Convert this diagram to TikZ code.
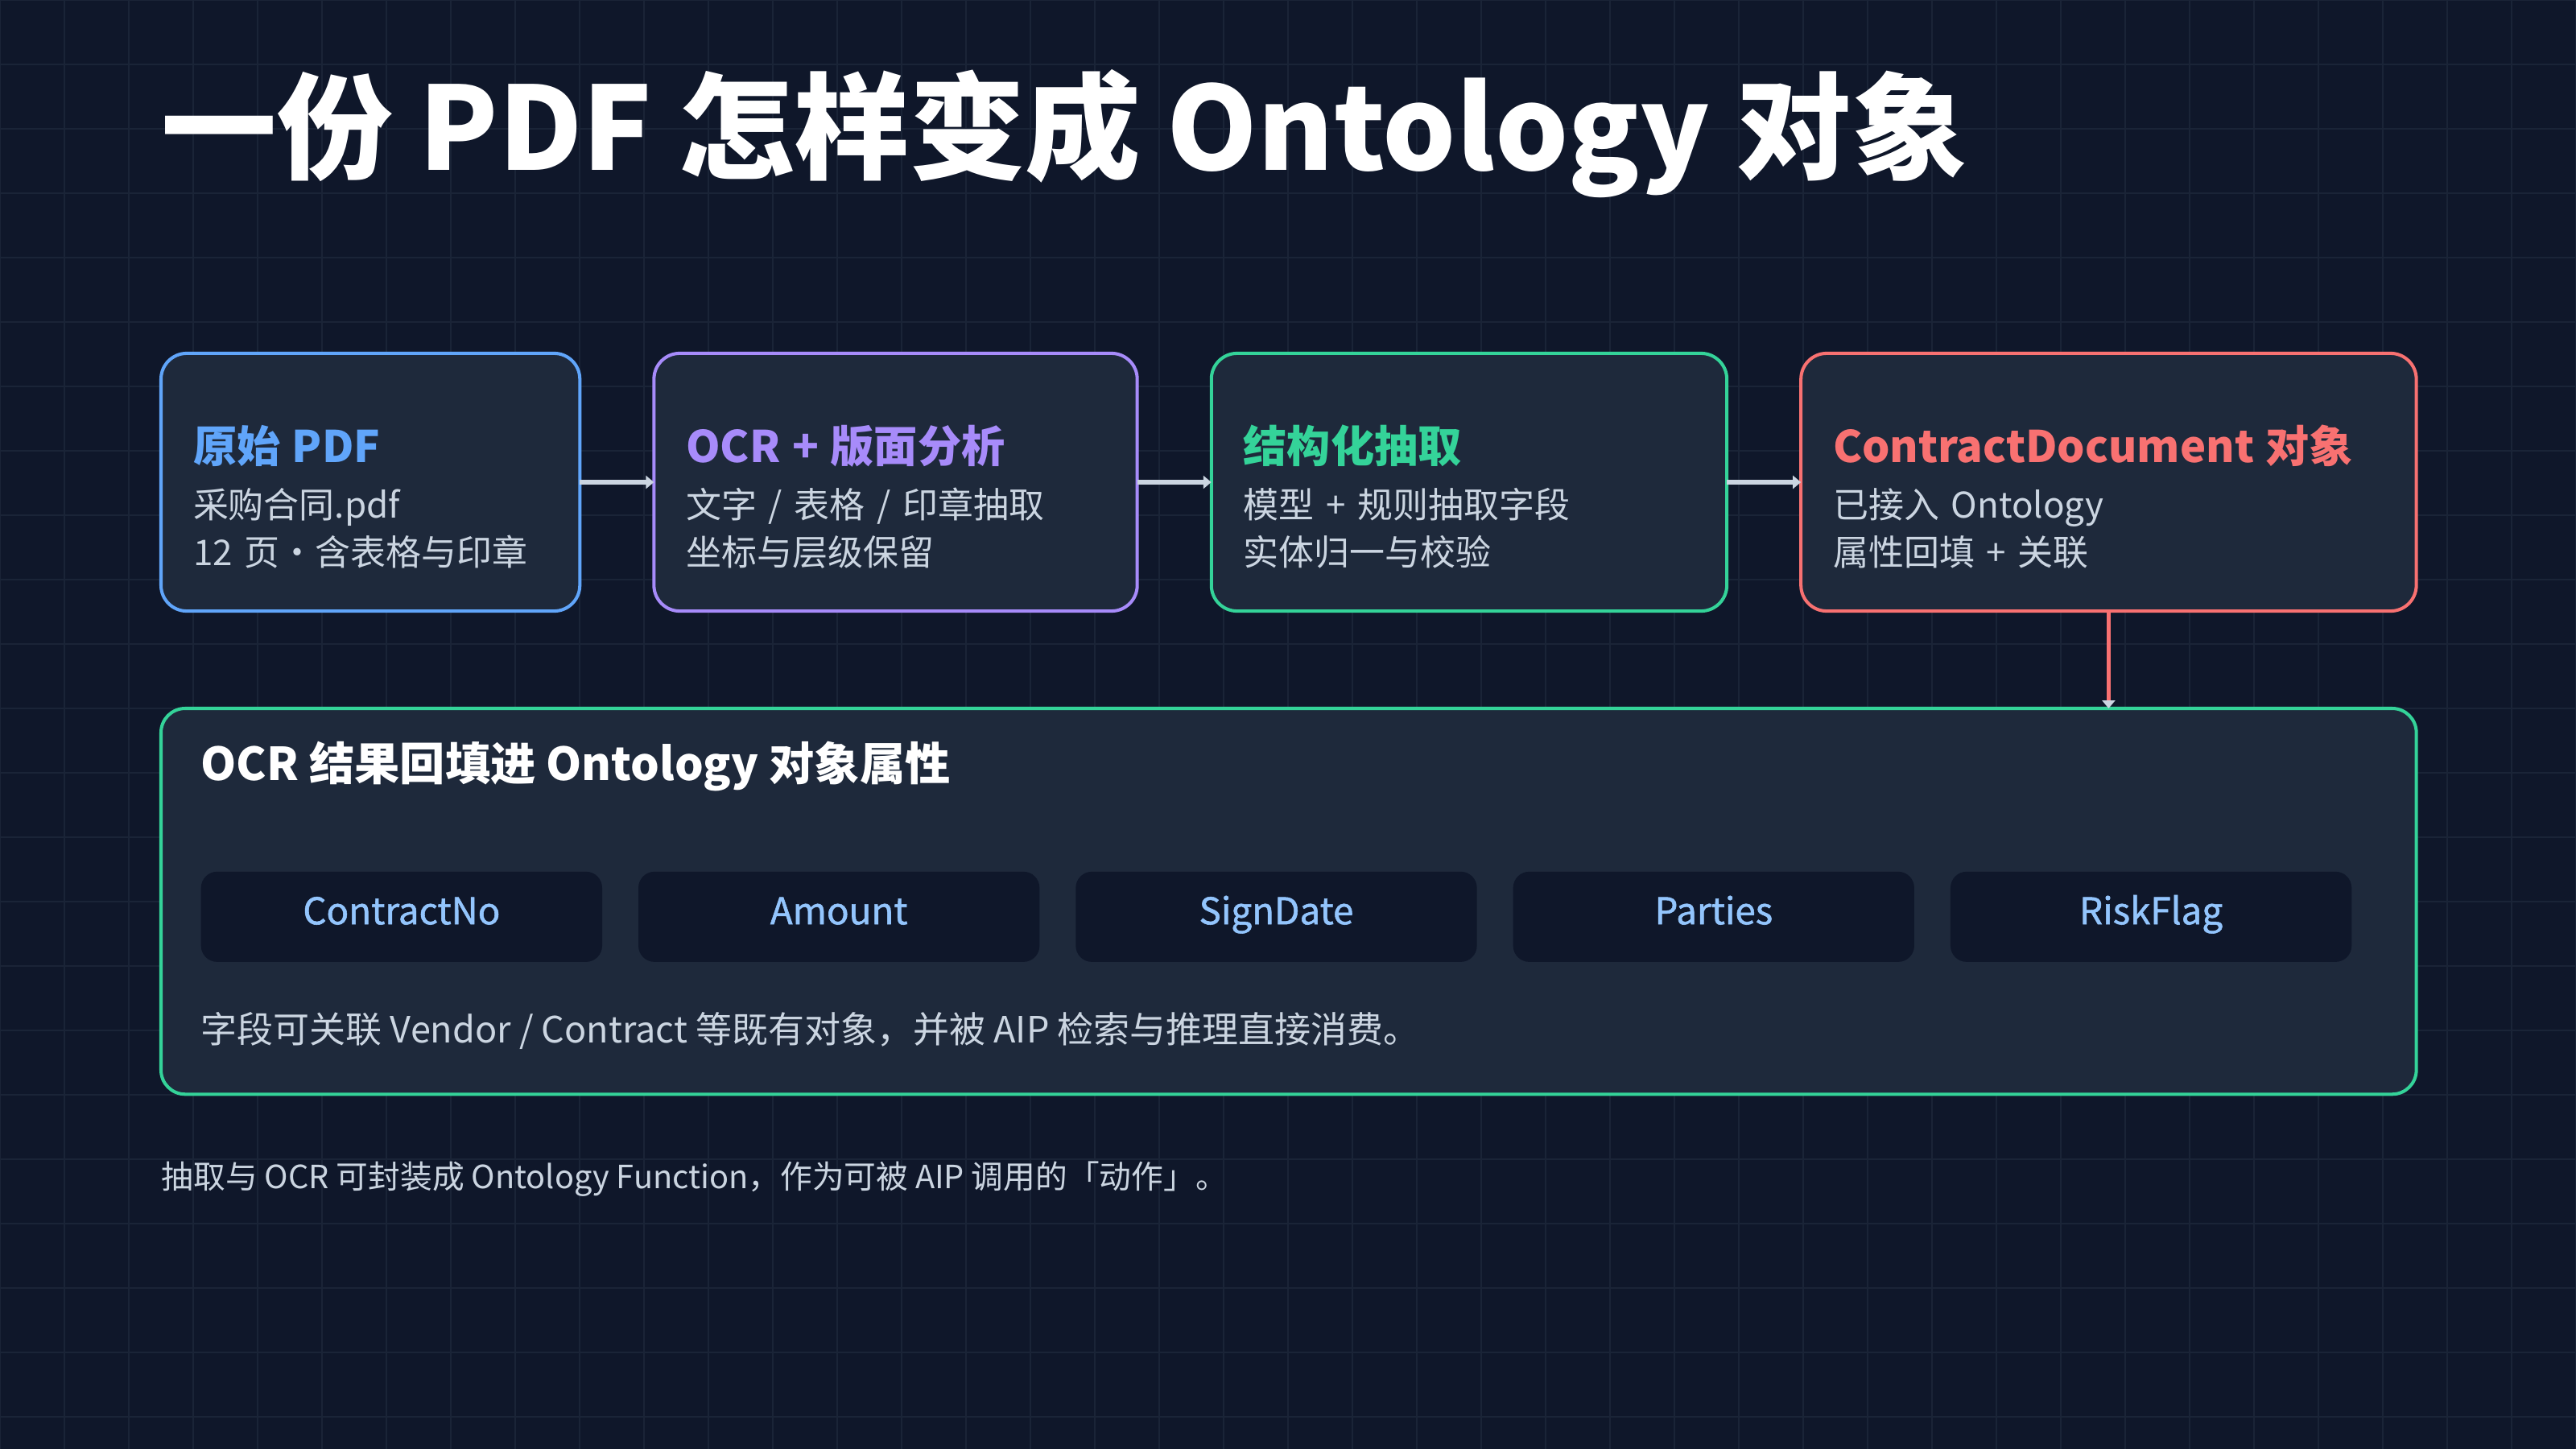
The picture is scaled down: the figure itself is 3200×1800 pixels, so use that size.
\documentclass[tikz,border=0pt]{standalone}
\usepackage{fontspec}
\setmainfont{Noto Sans CJK SC}
\newfontfamily\fieldfont{Noto Sans CJK SC}[FakeBold=1.2]
\usetikzlibrary{arrows.meta, positioning, matrix, graphs}
\definecolor{slatebg}{HTML}{0F172A}
\definecolor{panel}{HTML}{1E293B}
\definecolor{gridc}{HTML}{1A2437}
\definecolor{body}{HTML}{CBD5E1}
\definecolor{arrowc}{HTML}{CBD5E1}
\definecolor{pdfblue}{HTML}{60A5FA}
\definecolor{ocrviolet}{HTML}{A78BFA}
\definecolor{mint}{HTML}{34D399}
\definecolor{coral}{HTML}{F87171}
\definecolor{fieldtext}{HTML}{93C5FD}
\newcommand{\headline}[2]{{\color{#1}\bfseries\fontsize{15.4}{18}\selectfont #2}}
\tikzset{
  gridline/.style={draw=gridc, line width=0.4pt},
  stage/.style={draw=#1, fill=panel, rounded corners=0.32cm, line width=1.15pt,
    minimum height=3.2cm, inner xsep=0.4cm, inner ysep=0pt, outer sep=0pt,
    text height=23.5pt, align=left, text=body, font=\fontsize{12.5}{16.8}\selectfont},
  panelbox/.style={draw=mint, fill=panel, rounded corners=0.3cm, line width=1.15pt, outer sep=0pt},
  field/.style={fill=slatebg, rounded corners=0.2cm, minimum width=4.98cm, minimum height=1.12cm,
    inner sep=0pt, anchor=center, text height=0.75em, text depth=0.22em,
    text=fieldtext, font=\fieldfont\fontsize{13}{15}\selectfont},
  flow/.style={-{Triangle[length=0.1cm,width=0.16cm]}, line width=1.6pt, draw=arrowc},
  drop/.style={-{Triangle[length=0.1cm,width=0.16cm,color=arrowc]}, line width=1.5pt, draw=coral}
}

\begin{document}
\begin{tikzpicture}[x=0.01cm, y=-0.01cm]
  % background and grid
  \fill[slatebg] (0,0) rectangle (3200,1800);
  \useasboundingbox (0,0) rectangle (3200,1800);
  \foreach \gx in {0,80,...,3200} \draw[gridline] (\gx,0) -- (\gx,1800);
  \foreach \gy in {0,80,...,1800} \draw[gridline] (0,\gy) -- (3200,\gy);

  \node[anchor=west, inner sep=0pt, text=white, font=\bfseries\fontsize{40.8}{48}\selectfont] (title) at (200,166)
    {一份 PDF 怎样变成 Ontology 对象};

  % pipeline
  \node[stage=pdfblue, text width=4.4cm, anchor=west] (pdf) at (200,599)
    {\headline{pdfblue}{原始 PDF}\\[3pt] 采购合同.pdf\\ \mbox{12 页·含表格与印章}};
  \node[stage=ocrviolet, text width=5.2cm, right=0.92cm of pdf] (ocr)
    {\headline{ocrviolet}{OCR + 版面分析}\\[3pt] 文字 / 表格 / 印章抽取\\ 坐标与层级保留};
  \node[stage=mint, text width=5.6cm, right=0.92cm of ocr] (extract)
    {\headline{mint}{结构化抽取}\\[3pt] 模型 + 规则抽取字段\\ 实体归一与校验};
  \node[stage=coral, text width=6.84cm, right=0.92cm of extract] (docobj)
    {\headline{coral}{ContractDocument 对象}\\[3pt] 已接入 Ontology\\ 属性回填 + 关联};

  \graph[use existing nodes, edges=flow] {
    pdf -> ocr -> extract -> docobj
  };

  % ontology properties
  \node[panelbox, minimum width=28cm, minimum height=4.79cm, anchor=north west] (props) at (200,880) {};
  \node[anchor=west, inner sep=0pt, text=white, font=\bfseries\fontsize{16}{18}\selectfont] (propstitle)
    at ([xshift=0.49cm,yshift=-0.72cm]props.north west) {OCR 结果回填进 Ontology 对象属性};

  \matrix (fields) [matrix of nodes, nodes={field}, column sep=0.45cm, inner sep=0pt, anchor=north west]
    at ([xshift=0.49cm,yshift=-2.02cm]props.north west) {
    |(f1)| ContractNo & |(f2)| Amount & |(f3)| SignDate & |(f4)| Parties & |(f5)| RiskFlag \\
  };

  \node[anchor=west, inner sep=0pt, text=body, font=\fontsize{12.8}{15}\selectfont] (propsnote)
    at ([xshift=0.49cm,yshift=0.79cm]props.south west)
    {字段可关联 Vendor / Contract 等既有对象，并被 AIP 检索与推理直接消费。};

  \draw[drop] (docobj.south) -- (docobj.south |- props.north);

  \node[anchor=west, inner sep=0pt, text=body, font=\fontsize{11.3}{13}\selectfont] (footer) at (200,1465)
    {抽取与 OCR 可封装成 Ontology Function，作为可被 AIP 调用的「动作」。};
\end{tikzpicture}
\end{document}
